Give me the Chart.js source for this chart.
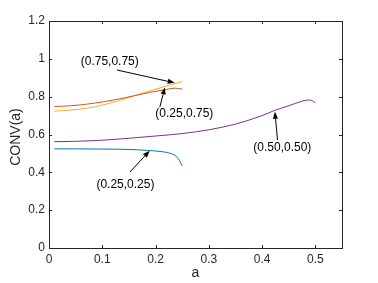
<!DOCTYPE html>
<html>
<head>
<meta charset="utf-8">
<script src="https://cdn.jsdelivr.net/npm/chart.js@4.4.1/dist/chart.umd.min.js"></script>
<style>
  html, body { margin: 0; padding: 0; background: #fff; }
  #wrap { width: 378px; height: 283px; }
</style>
</head>
<body>
<div id="wrap"><canvas id="c" width="378" height="283"></canvas></div>
<script>
(function () {

  // curve samples: a -> CONV(a)
  const blueA   = [0.01, 0.05, 0.10, 0.15, 0.19, 0.21, 0.223, 0.232, 0.2395, 0.245, 0.25];
  const blueV   = [0.524, 0.524, 0.523, 0.521, 0.515, 0.510, 0.504, 0.496, 0.483, 0.462, 0.434];
  const orangeA = [0.01, 0.04, 0.07, 0.10, 0.13, 0.16, 0.19, 0.22, 0.236, 0.25];
  const orangeV = [0.748, 0.752, 0.760, 0.772, 0.787, 0.805, 0.823, 0.838, 0.845, 0.840];
  const yellowA = [0.01, 0.04, 0.07, 0.10, 0.13, 0.16, 0.19, 0.22, 0.25];
  const yellowV = [0.724, 0.729, 0.739, 0.755, 0.778, 0.805, 0.831, 0.856, 0.880];
  const purpleA = [0.01, 0.05, 0.10, 0.15, 0.20, 0.25, 0.30, 0.35, 0.40, 0.424, 0.45, 0.475, 0.486, 0.493, 0.50];
  const purpleV = [0.562, 0.564, 0.570, 0.580, 0.592, 0.605, 0.625, 0.655, 0.700, 0.728, 0.752, 0.776, 0.782, 0.780, 0.767];

  const xTicks = [0, 0.1, 0.2, 0.3, 0.4, 0.5];
  const yTicks = [0, 0.2, 0.4, 0.6, 0.8, 1, 1.2];

  // labels with arrow tail/head, in data units
  const notes = [
    { text: '(0.75,0.75)', tx: 0.114, ty: 0.983, x0: 0.1275, y0: 0.941, x1: 0.236, y1: 0.873 },
    { text: '(0.25,0.75)', tx: 0.254, ty: 0.708, x0: 0.208, y0: 0.745, x1: 0.2175, y1: 0.849 },
    { text: '(0.25,0.25)', tx: 0.1435, ty: 0.333, x0: 0.152, y0: 0.402, x1: 0.189, y1: 0.514 },
    { text: '(0.50,0.50)', tx: 0.438, ty: 0.529, x0: 0.429, y0: 0.571, x1: 0.424, y1: 0.720 }
  ];

  const FONT = 'Liberation Sans, Arial, Helvetica, sans-serif';
  const INK = '#262626';

  function pts(xs, ys) {
    return xs.map((x, i) => ({ x: x, y: ys[i] }));
  }

  function series(xs, ys, color) {
    return {
      data: pts(xs, ys),
      borderColor: color,
      borderWidth: 1,
      pointRadius: 0,
      showLine: true,
      fill: false,
      cubicInterpolationMode: 'monotone'
    };
  }

  const boxPlugin = {
    id: 'box',
    afterDatasetsDraw(chart) {
      const ctx = chart.ctx;
      const a = chart.chartArea;
      const sx = chart.scales.x, sy = chart.scales.y;
      ctx.save();
      ctx.strokeStyle = INK;
      ctx.lineWidth = 1;
      ctx.strokeRect(Math.round(a.left) + 0.5, Math.round(a.top) + 0.5,
        Math.round(a.right - a.left), Math.round(a.bottom - a.top));
      ctx.beginPath();
      xTicks.forEach(t => {
        const px = Math.round(sx.getPixelForValue(t)) + 0.5;
        ctx.moveTo(px, a.bottom); ctx.lineTo(px, a.bottom - 3);
        ctx.moveTo(px, a.top); ctx.lineTo(px, a.top + 3);
      });
      yTicks.forEach(t => {
        const py = Math.round(sy.getPixelForValue(t)) + 0.5;
        ctx.moveTo(a.left, py); ctx.lineTo(a.left + 3, py);
        ctx.moveTo(a.right, py); ctx.lineTo(a.right - 3, py);
      });
      ctx.stroke();

      // axis titles
      ctx.fillStyle = INK;
      ctx.font = '14px ' + FONT;
      ctx.textAlign = 'center';
      ctx.textBaseline = 'middle';
      ctx.fillText('a', (a.left + a.right) / 2, 273);
      ctx.save();
      ctx.translate(16, 137);
      ctx.rotate(-Math.PI / 2);
      ctx.fillText('CONV(a)', 0, 0);
      ctx.restore();

      // annotations
      ctx.fillStyle = '#000';
      ctx.strokeStyle = '#000';
      ctx.font = '12px ' + FONT;
      notes.forEach(n => {
        ctx.fillText(n.text, sx.getPixelForValue(n.tx), sy.getPixelForValue(n.ty));
        const x0 = sx.getPixelForValue(n.x0), y0 = sy.getPixelForValue(n.y0);
        const x1 = sx.getPixelForValue(n.x1), y1 = sy.getPixelForValue(n.y1);
        const ang = Math.atan2(y1 - y0, x1 - x0);
        const L = 7, W = 2.6;
        const bx = x1 - L * Math.cos(ang), by = y1 - L * Math.sin(ang);
        ctx.beginPath();
        ctx.moveTo(x0, y0); ctx.lineTo(bx, by);
        ctx.stroke();
        ctx.beginPath();
        ctx.moveTo(x1, y1);
        ctx.lineTo(bx + W * Math.sin(ang), by - W * Math.cos(ang));
        ctx.lineTo(bx - W * Math.sin(ang), by + W * Math.cos(ang));
        ctx.closePath();
        ctx.fill();
      });
      ctx.restore();
    }
  };

  new Chart(document.getElementById('c'), {
    type: 'scatter',
    data: {
      datasets: [
        series(blueA, blueV, '#0072BD'),
        series(orangeA, orangeV, '#D95319'),
        series(yellowA, yellowV, '#EDB120'),
        series(purpleA, purpleV, '#7E2F8E')
      ]
    },
    options: {
      responsive: false,
      animation: false,
      events: [],
      layout: { padding: { left: 0, right: 36, top: 21, bottom: 0 } },
      plugins: { legend: { display: false }, tooltip: { enabled: false } },
      scales: {
        x: {
          type: 'linear', min: 0, max: 0.55,
          afterBuildTicks: s => { s.ticks = xTicks.map(v => ({ value: v })); },
          afterFit: s => { s.height = 35; },
          grid: { display: false, drawTicks: false },
          border: { display: false },
          ticks: { color: INK, font: { family: FONT, size: 12 }, padding: 4, maxRotation: 0,
            callback: v => String(v) },
          title: { display: false }
        },
        y: {
          type: 'linear', min: 0, max: 1.2,
          afterBuildTicks: s => { s.ticks = yTicks.map(v => ({ value: v })); },
          afterFit: s => { s.width = 49; },
          grid: { display: false, drawTicks: false },
          border: { display: false },
          ticks: { color: INK, font: { family: FONT, size: 12 }, padding: 4,
            callback: v => String(v) },
          title: { display: false }
        }
      }
    },
    plugins: [boxPlugin]
  });
})();
</script>
</body>
</html>
